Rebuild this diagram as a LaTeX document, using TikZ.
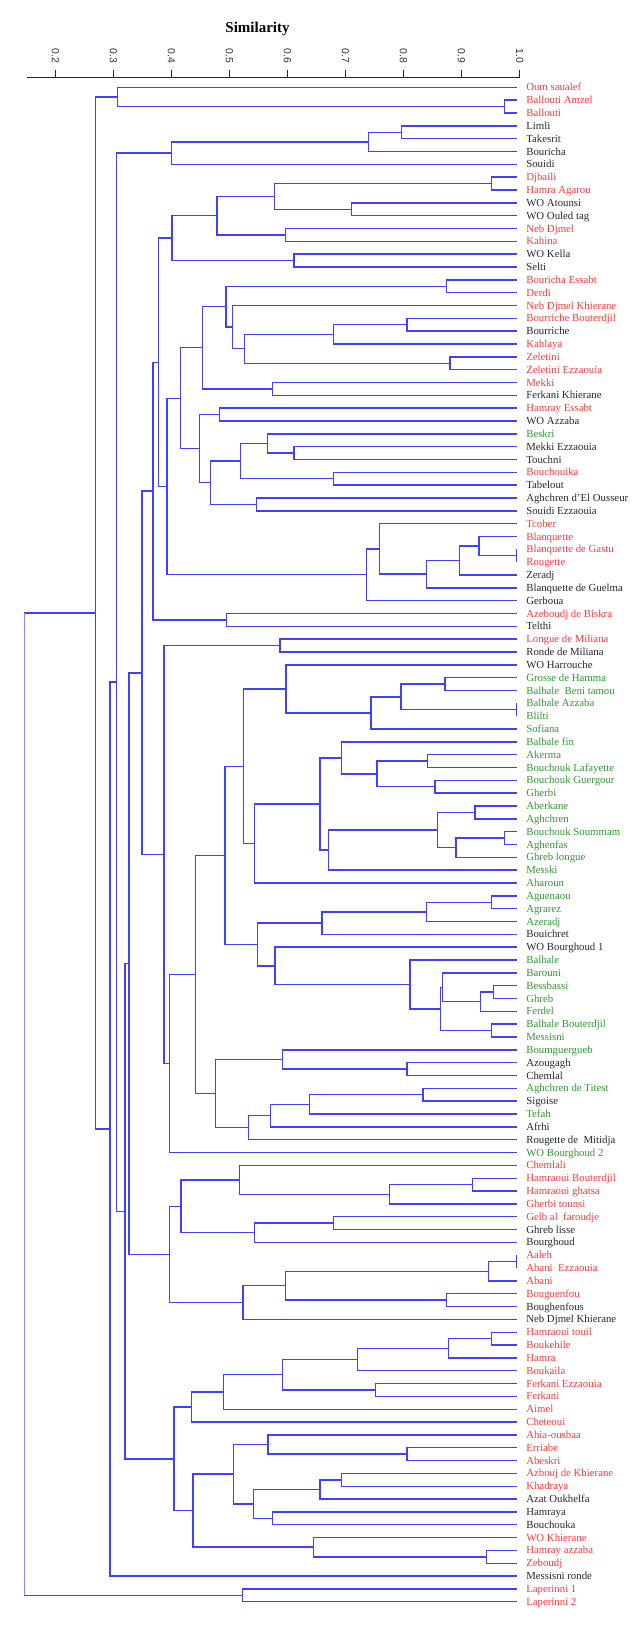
\documentclass[tikz,border=0pt]{standalone}
\usepackage{fontspec}
\setmainfont{Liberation Serif}
\newfontfamily\axisfont{Liberation Sans}
\usetikzlibrary{calc}
\definecolor{lineblue}{RGB}{64,64,255}
\definecolor{rootblue}{RGB}{135,135,255}
\definecolor{cR}{RGB}{255,55,55}
\definecolor{cG}{RGB}{50,150,50}
\definecolor{cK}{RGB}{40,40,40}
\tikzset{
  br/.style={draw=lineblue, line width=1.4pt},
  rootline/.style={draw=rootblue, line width=0.9pt},
  axisline/.style={draw=black!85, line width=1.1pt},
  leaflab/.style={anchor=base west, inner sep=0pt, font=\fontsize{10.8}{12}\selectfont},
  ticklab/.style={inner sep=0pt, text=black!80, font=\axisfont\fontsize{10.4}{12}\selectfont},
  titlelab/.style={anchor=base, inner sep=0pt, font=\bfseries\fontsize{15}{18}\selectfont}
}
\newcommand\mrg[4]{%
  \path let \p1=($(#3)!0.5!(#4)$), \p2=(#2,0) in (\x2,\y1) coordinate (#1);
  \draw[br] (#3) -- (#3 -| #1) -- (#4 -| #1) -- (#4);
}
\begin{document}
\begin{tikzpicture}[x=0.40688pt,y=-1pt]
\useasboundingbox (0,0) rectangle (1568,1627);
% title and axis
\node[titlelab] (title) at (633,33) {Similarity};
\coordinate (axL) at (66,77.7);
\coordinate (axR) at (1277,77.7);
\draw[axisline] (axL) -- (axR);
\foreach \k/\v in {0/0.2,1/0.3,2/0.4,3/0.5,4/0.6,5/0.7,6/0.8,7/0.9,8/1.0} {
  \coordinate (tk\k) at ({136+\k*142.625},77.7);
  \draw[axisline] (tk\k) -- ++(0,-7.7);
  \node[ticklab, rotate=-90, anchor=west] (tl\k) at ({136+\k*142.625},48.3) {\v};
}
% leaves
\foreach \i/\t/\c in {
1/Oum saualef/cR, 2/Ballouti Amzel/cR, 3/Ballouti/cR, 4/Limli/cK, 5/Takesrit/cK,
6/Bouricha/cK, 7/Souidi/cK, 8/Djbaili/cR, 9/Hamra Agarou/cR, 10/WO Atounsi/cK,
11/WO Ouled tag/cK, 12/Neb Djmel/cR, 13/Kahina/cR, 14/WO Kella/cK, 15/Selti/cK,
16/Bouricha Essabt/cR, 17/Derdi/cR, 18/Neb Djmel Khierane/cR, 19/Bourriche Bouterdjil/cR, 20/Bourriche/cK,
21/Kahlaya/cR, 22/Zeletini/cR, 23/Zeletini Ezzaouia/cR, 24/Mekki/cR, 25/Ferkani Khierane/cK,
26/Hamray Essabt/cR, 27/WO Azzaba/cK, 28/Beskri/cG, 29/Mekki Ezzaouia/cK, 30/Touchni/cK,
31/Bouchouika/cR, 32/Tabelout/cK, 33/Aghchren d'El Ousseur/cK, 34/Souidi Ezzaouia/cK, 35/Tcober/cR,
36/Blanquette/cR, 37/Blanquette de Gastu/cR, 38/Rougette/cR, 39/Zeradj/cK, 40/Blanquette de Guelma/cK,
41/Gerboua/cK, 42/Azeboudj de Biskra/cR, 43/Telthi/cK, 44/Longue de Miliana/cR, 45/Ronde de Miliana/cK,
46/WO Harrouche/cK, 47/Grosse de Hamma/cG, 48/Balbale~ Beni tamou/cG, 49/Balbale Azzaba/cG, 50/Blilti/cG,
51/Sofiana/cG, 52/Balbale fin/cG, 53/Akerma/cG, 54/Bouchouk Lafayette/cG, 55/Bouchouk Guergour/cG,
56/Gherbi/cG, 57/Aberkane/cG, 58/Aghchren/cG, 59/Bouchouk Soummam/cG, 60/Aghenfas/cG,
61/Ghreb longue/cG, 62/Messki/cG, 63/Aharoun/cG, 64/Aguenaou/cG, 65/Agrarez/cG,
66/Azeradj/cG, 67/Bouichret/cK, 68/WO Bourghoud 1/cK, 69/Balbale/cG, 70/Barouni/cG,
71/Bessbassi/cG, 72/Ghreb/cG, 73/Ferdel/cG, 74/Balbale Bouterdjil/cG, 75/Messisni/cG,
76/Boumguergueb/cG, 77/Azougagh/cK, 78/Chemlal/cK, 79/Aghchren de Titest/cG, 80/Sigoise/cK,
81/Tefah/cG, 82/Afrhi/cK, 83/Rougette de~ Mitidja/cK, 84/WO Bourghoud 2/cG, 85/Chemlali/cR,
86/Hamraoui Bouterdjil/cR, 87/Hamraoui ghatsa/cR, 88/Gherbi tounsi/cR, 89/Gelb al~ faroudje/cR, 90/Ghreb lisse/cK,
91/Bourghoud/cK, 92/Aaleh/cR, 93/Abani~ Ezzaouia/cR, 94/Abani/cR, 95/Bouguenfou/cR,
96/Boughenfous/cK, 97/Neb Djmel Khierane/cK, 98/Hamraoui touil/cR, 99/Boukehile/cR, 100/Hamra/cR,
101/Boukaila/cR, 102/Ferkani Ezzaouia/cR, 103/Ferkani/cR, 104/Aimel/cR, 105/Cheteoui/cR,
106/Ahia-ousbaa/cR, 107/Erriabe/cR, 108/Abeskri/cR, 109/Azbouj de Khierane/cR, 110/Khadraya/cR,
111/Azat Oukhelfa/cK, 112/Hamraya/cK, 113/Bouchouka/cK, 114/WO Khierane/cR, 115/Hamray azzaba/cR,
116/Zeboudj/cR, 117/Messisni ronde/cK, 118/Laperinni 1/cR, 119/Laperinni 2/cR} {
  \coordinate (l\i) at (1270,{87.3+(\i-1)*12.834});
  \node[leaflab, text=\c] (t\i) at (1293,{87.3+(\i-1)*12.834+3.6}) {\t};
}
% merges
\mrg{m2x3}{1240}{l2}{l3}
\mrg{m1x3}{289}{l1}{m2x3}
\mrg{m4x5}{987}{l4}{l5}
\mrg{m4x6}{906}{m4x5}{l6}
\mrg{m4x7}{422}{m4x6}{l7}
\mrg{m8x9}{1208}{l8}{l9}
\mrg{m10x11}{864}{l10}{l11}
\mrg{m8x11}{675}{m8x9}{m10x11}
\mrg{m12x13}{701}{l12}{l13}
\mrg{m8x13}{533}{m8x11}{m12x13}
\mrg{m14x15}{723}{l14}{l15}
\mrg{m8x15}{423}{m8x13}{m14x15}
\mrg{m16x17}{1098}{l16}{l17}
\mrg{m19x20}{1000}{l19}{l20}
\mrg{m19x21}{819}{m19x20}{l21}
\mrg{m22x23}{1106}{l22}{l23}
\mrg{m19x23}{601}{m19x21}{m22x23}
\mrg{m18x23}{571}{l18}{m19x23}
\mrg{m16x23}{555}{m16x17}{m18x23}
\mrg{m24x25}{670}{l24}{l25}
\mrg{m16x25}{498}{m16x23}{m24x25}
\mrg{m26x27}{540}{l26}{l27}
\mrg{m29x30}{723}{l29}{l30}
\mrg{m28x30}{658}{l28}{m29x30}
\mrg{m31x32}{819}{l31}{l32}
\mrg{m28x32}{591}{m28x30}{m31x32}
\mrg{m33x34}{630}{l33}{l34}
\mrg{m28x34}{518}{m28x32}{m33x34}
\mrg{m26x34}{491}{m26x27}{m28x34}
\mrg{m16x34}{443}{m16x25}{m26x34}
\mrg{m37x38}{1270}{l37}{l38}
\mrg{m36x38}{1177}{l36}{m37x38}
\mrg{m36x39}{1129}{m36x38}{l39}
\mrg{m36x40}{1048}{m36x39}{l40}
\mrg{m35x40}{932}{l35}{m36x40}
\mrg{m35x41}{901}{m35x40}{l41}
\mrg{m16x41}{410}{m16x34}{m35x41}
\mrg{m8x41}{389}{m8x15}{m16x41}
\mrg{m42x43}{557}{l42}{l43}
\mrg{m8x43}{376}{m8x41}{m42x43}
\mrg{m44x45}{688}{l44}{l45}
\mrg{m47x48}{1094}{l47}{l48}
\mrg{m49x50}{1270}{l49}{l50}
\mrg{m47x50}{986}{m47x48}{m49x50}
\mrg{m47x51}{912}{m47x50}{l51}
\mrg{m46x51}{703}{l46}{m47x51}
\mrg{m53x54}{1050}{l53}{l54}
\mrg{m55x56}{1069}{l55}{l56}
\mrg{m53x56}{927}{m53x54}{m55x56}
\mrg{m52x56}{839}{l52}{m53x56}
\mrg{m57x58}{1167}{l57}{l58}
\mrg{m59x60}{1240}{l59}{l60}
\mrg{m59x61}{1121}{m59x60}{l61}
\mrg{m57x61}{1075}{m57x58}{m59x61}
\mrg{m57x62}{808}{m57x61}{l62}
\mrg{m52x62}{786}{m52x56}{m57x62}
\mrg{m52x63}{625}{m52x62}{l63}
\mrg{m46x63}{598}{m46x51}{m52x63}
\mrg{m64x65}{1208}{l64}{l65}
\mrg{m64x66}{1048}{m64x65}{l66}
\mrg{m64x67}{791}{m64x66}{l67}
\mrg{m71x72}{1213}{l71}{l72}
\mrg{m71x73}{1181}{m71x72}{l73}
\mrg{m70x73}{1088}{l70}{m71x73}
\mrg{m74x75}{1208}{l74}{l75}
\mrg{m70x75}{1083}{m70x73}{m74x75}
\mrg{m69x75}{1008}{l69}{m70x75}
\mrg{m68x75}{676}{l68}{m69x75}
\mrg{m64x75}{633}{m64x67}{m68x75}
\mrg{m46x75}{553}{m46x63}{m64x75}
\mrg{m77x78}{1000}{l77}{l78}
\mrg{m76x78}{695}{l76}{m77x78}
\mrg{m79x80}{1040}{l79}{l80}
\mrg{m79x81}{760}{m79x80}{l81}
\mrg{m79x82}{665}{m79x81}{l82}
\mrg{m79x83}{611}{m79x82}{l83}
\mrg{m76x83}{530}{m76x78}{m79x83}
\mrg{m46x83}{481}{m46x75}{m76x83}
\mrg{m46x84}{416}{m46x83}{l84}
\mrg{m44x84}{403}{m44x45}{m46x84}
\mrg{m8x84}{349}{m8x43}{m44x84}
\mrg{m86x87}{1162}{l86}{l87}
\mrg{m86x88}{957}{m86x87}{l88}
\mrg{m85x88}{589}{l85}{m86x88}
\mrg{m89x90}{819}{l89}{l90}
\mrg{m89x91}{625}{m89x90}{l91}
\mrg{m85x91}{445}{m85x88}{m89x91}
\mrg{m92x93}{1270}{l92}{l93}
\mrg{m92x94}{1200}{m92x93}{l94}
\mrg{m95x96}{1098}{l95}{l96}
\mrg{m92x96}{701}{m92x94}{m95x96}
\mrg{m92x97}{597}{m92x96}{l97}
\mrg{m85x97}{416}{m85x91}{m92x97}
\mrg{m8x97}{317}{m8x84}{m85x97}
\mrg{m98x99}{1208}{l98}{l99}
\mrg{m98x100}{1102}{m98x99}{l100}
\mrg{m98x101}{878}{m98x100}{l101}
\mrg{m102x103}{923}{l102}{l103}
\mrg{m98x103}{695}{m98x101}{m102x103}
\mrg{m98x104}{550}{m98x103}{l104}
\mrg{m98x105}{471}{m98x104}{l105}
\mrg{m107x108}{1000}{l107}{l108}
\mrg{m106x108}{659}{l106}{m107x108}
\mrg{m109x110}{840}{l109}{l110}
\mrg{m109x111}{786}{m109x110}{l111}
\mrg{m112x113}{670}{l112}{l113}
\mrg{m109x113}{623}{m109x111}{m112x113}
\mrg{m106x113}{574}{m106x108}{m109x113}
\mrg{m115x116}{1196}{l115}{l116}
\mrg{m114x116}{770}{l114}{m115x116}
\mrg{m106x116}{474}{m106x113}{m114x116}
\mrg{m98x116}{428}{m98x105}{m106x116}
\mrg{m8x116}{307}{m8x97}{m98x116}
\mrg{m4x116}{287}{m4x7}{m8x116}
\mrg{m4x117}{270}{m4x116}{l117}
\mrg{m1x117}{234}{m1x3}{m4x117}
\mrg{m118x119}{596}{l118}{l119}
% root
\path let \p1=($(m1x117)!0.5!(m118x119)$), \p2=(60,0) in (\x2,\y1) coordinate (root);
\draw[br] (m1x117) -- (m1x117 -| root);
\draw[br] (m118x119) -- (m118x119 -| root);
\draw[rootline] (m1x117 -| root) -- (m118x119 -| root);
\end{tikzpicture}
\end{document}
